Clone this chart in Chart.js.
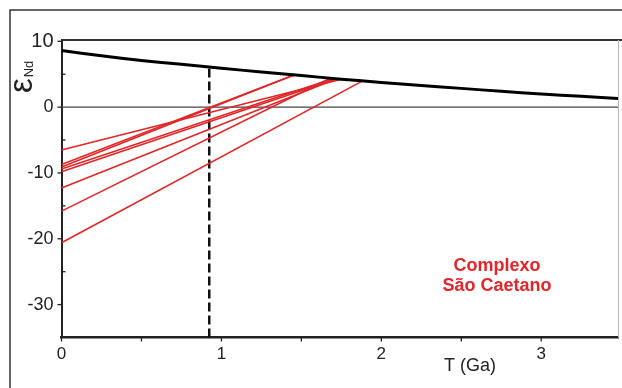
<!DOCTYPE html>
<html>
<head>
<meta charset="utf-8">
<script src="https://cdn.jsdelivr.net/npm/chart.js@4"></script>
<style>
  body { margin: 0; background: #fff; }
  #wrap { width: 622px; height: 388px; }
</style>
</head>
<body>
<div id="wrap"><canvas id="chartCanvas" width="622" height="388"></canvas></div>
<script>
// curva do manto empobrecido (DM)
const dmT   = [0, 0.25, 0.5, 0.75, 1, 1.25, 1.5, 1.75, 2, 2.25, 2.5, 2.75, 3, 3.25, 3.5];
const dmEps = [8.6, 7.8, 7.1, 6.5, 5.9, 5.35, 4.8, 4.25, 3.75, 3.3, 2.85, 2.4, 2.0, 1.65, 1.3];

// linhas de evolução das amostras (início em T=0, fim na curva DM)
const sampleStartEps = [-6.5, -8.7, -9.1, -9.4, -9.8, -12.3, -15.8, -20.6];
const sampleEndT     = [1.75, 1.45, 1.45, 1.70, 1.72, 1.72, 1.68, 1.88];
const sampleEndEps   = [4.25, 4.85, 4.85, 4.35, 4.3, 4.3, 4.4, 3.95];

// idade de cristalização (linha tracejada)
const markerT = 0.924;
const markerTop = 6.1;

const xTicks = [0, 0.5, 1, 1.5, 2, 2.5, 3];
const yTicks = [10, 5, 0, -5, -10, -15, -20, -25, -30];

const xTitle = "T (Ga)";
const yTitleMain = "ε";
const yTitleSub = "Nd";
const labelLines = ["Complexo", "São Caetano"];

const red = "rgb(224,38,40)";
const font = "'Liberation Sans', Arial, sans-serif";

const datasets = [];
datasets.push({
  data: dmT.map((t, i) => ({ x: t, y: dmEps[i] })),
  borderColor: "#000",
  borderWidth: 3,
  pointRadius: 0,
  tension: 0.3
});
sampleStartEps.forEach((e, i) => {
  datasets.push({
    data: [{ x: 0, y: e }, { x: sampleEndT[i], y: sampleEndEps[i] }],
    borderColor: red,
    borderWidth: 1.6,
    pointRadius: 0
  });
});
datasets.push({
  data: [{ x: markerT, y: -35 }, { x: markerT, y: markerTop }],
  borderColor: "#111",
  borderWidth: 2.5,
  borderDash: [9, 4],
  pointRadius: 0
});

// moldura, linha do zero, marcas dos eixos e textos
const extras = {
  id: "extras",
  beforeDatasetsDraw(chart) {
    const c = chart.ctx, a = chart.chartArea;
    const xs = chart.scales.x, ys = chart.scales.y;
    c.save();
    // moldura externa
    c.strokeStyle = "#333";
    c.lineWidth = 1.5;
    c.beginPath();
    c.moveTo(10, 388); c.lineTo(10, 10); c.lineTo(622, 10);
    c.stroke();
    // borda superior e direita
    c.lineWidth = 1.8;
    c.beginPath(); c.moveTo(a.left, a.top); c.lineTo(622, a.top); c.stroke();
    c.strokeStyle = "#bbb";
    c.lineWidth = 1;
    c.beginPath(); c.moveTo(a.right + 0.5, a.top); c.lineTo(a.right + 0.5, a.bottom); c.stroke();
    // linha do zero
    const y0 = ys.getPixelForValue(0);
    c.strokeStyle = "#444";
    c.lineWidth = 1.2;
    c.beginPath(); c.moveTo(a.left, y0); c.lineTo(a.right, y0); c.stroke();
    // marcas
    c.strokeStyle = "#222";
    c.lineWidth = 1.3;
    yTicks.forEach(v => {
      const py = ys.getPixelForValue(v);
      c.beginPath();
      if (v % 10 === 0) { c.moveTo(a.left - 4, py); c.lineTo(a.left, py); }
      else { c.moveTo(a.left, py); c.lineTo(a.left + 4, py); }
      c.stroke();
    });
    xTicks.forEach(v => {
      const px = xs.getPixelForValue(v);
      c.beginPath(); c.moveTo(px, a.bottom); c.lineTo(px, a.bottom + 4); c.stroke();
    });
    c.restore();
  },
  afterDraw(chart) {
    const c = chart.ctx;
    c.save();
    c.fillStyle = "#222";
    c.font = "18px " + font;
    c.textAlign = "center";
    c.textBaseline = "middle";
    c.fillText(xTitle, 470, 366);
    // titulo do eixo y, girado
    c.translate(0, 93);
    c.rotate(-Math.PI / 2);
    c.textAlign = "left";
    c.textBaseline = "alphabetic";
    c.font = "33px " + font;
    c.fillText(yTitleMain, 0, 32);
    const w = c.measureText(yTitleMain).width;
    c.font = "13px " + font;
    c.fillText(yTitleSub, w + 1, 33);
    c.restore();
    // legenda em vermelho
    c.save();
    c.fillStyle = red;
    c.font = "bold 18px " + font;
    c.textAlign = "center";
    c.textBaseline = "middle";
    labelLines.forEach((s, i) => c.fillText(s, 497, 266 + i * 20));
    c.restore();
  }
};

new Chart(document.getElementById("chartCanvas").getContext("2d"), {
  type: "line",
  data: { datasets: datasets },
  options: {
    responsive: false,
    animation: false,
    layout: { padding: { top: 40, right: 4, left: 0, bottom: 0 } },
    plugins: { legend: { display: false }, tooltip: { enabled: false } },
    scales: {
      x: {
        type: "linear",
        min: 0,
        max: 3.48,
        afterBuildTicks: s => { s.ticks = xTicks.map(v => ({ value: v })); },
        afterFit: s => { s.height = 50.5; },
        grid: { display: false, drawTicks: false, tickLength: 0 },
        border: { display: true, color: "#222", width: 2.5 },
        ticks: {
          color: "#222",
          padding: 7,
          maxRotation: 0,
          autoSkip: false,
          font: { family: font, size: 17 },
          callback: v => (v % 1 === 0 ? String(v) : "")
        }
      },
      y: {
        type: "linear",
        min: -35,
        max: 10.2,
        afterBuildTicks: s => { s.ticks = yTicks.map(v => ({ value: v })); },
        afterFit: s => { s.width = 61.5; },
        grid: { display: false, drawTicks: false, tickLength: 0 },
        border: { display: true, color: "#222", width: 2 },
        ticks: {
          color: "#222",
          padding: 8,
          autoSkip: false,
          font: ctx => ({ family: font, size: ctx.tick && ctx.tick.value === 10 ? 20 : 18 }),
          callback: v => (v % 10 === 0 ? String(v) : "")
        }
      }
    }
  },
  plugins: [extras]
});
</script>
</body>
</html>
